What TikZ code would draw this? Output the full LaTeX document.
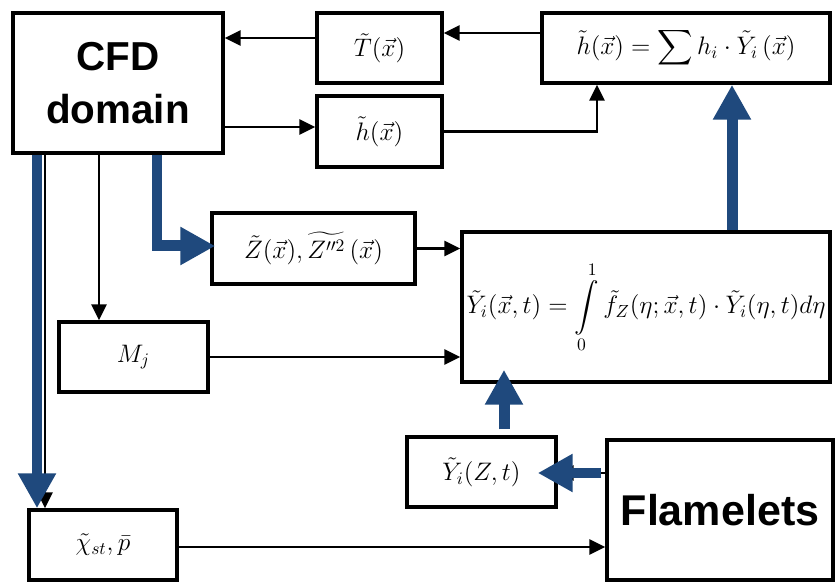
\documentclass[tikz,border=0pt]{standalone}
\usepackage{amsmath,amssymb}
\usepackage{fontspec}
\newfontfamily\headfont{Liberation Sans}
\usepackage{tikz}
\usetikzlibrary{positioning,arrows.meta}
\definecolor{flowblue}{RGB}{31,73,125}

\begin{document}
\begin{tikzpicture}[
  x=0.02cm, y=-0.02cm,
  font=\fontsize{14}{17}\selectfont,
  box/.style={draw, line width=2pt, inner sep=2pt, align=center},
  title/.style={font=\headfont\bfseries\fontsize{23}{30}\selectfont},
  ar/.style={-{Triangle[length=0.32cm, width=0.3cm]}, line width=1.7pt},
  bar/.style={-{Triangle[length=0.7cm, width=0.72cm]}, line width=0.22cm,
    draw=flowblue}
]
  \useasboundingbox (0,0) rectangle (836,584);
  % boxes
  \node[box, title, minimum width=4.2cm, minimum height=2.8cm] (cfd) at (118, 83)
    {CFD\\domain};
  \node[box, minimum width=2.5cm, minimum height=1.4cm] (temp) at (379.5, 48)
    {$\tilde{T}(\vec{x})$};
  \node[box, minimum width=2.5cm, minimum height=1.42cm] (enth) at (379.5, 131.5)
    {$\tilde{h}(\vec{x})$};
  \node[box, minimum width=5.76cm, minimum height=1.4cm] (hsum) at (686, 48)
    {$\tilde{h}(\vec{x})=\displaystyle\sum h_i\cdot\tilde{Y}_i\,(\vec{x})$};
  \node[box, minimum width=4.06cm, minimum height=1.42cm] (mix) at (313.5, 248.5)
    {$\tilde{Z}(\vec{x}),\widetilde{Z''^{2}}\,(\vec{x})$};
  \node[box, minimum width=7.36cm, minimum height=3cm] (integ) at (646, 307)
    {$\tilde{Y}_i(\vec{x},t)=\displaystyle\int\limits_0^1
      \tilde{f}_Z(\eta;\vec{x},t)\cdot\tilde{Y}_i(\eta,t)d\eta$};
  \node[box, minimum width=2.98cm, minimum height=1.4cm] (mj) at (133.5, 357)
    {$M_j$};
  \node[box, minimum width=2.98cm, minimum height=1.4cm] (yzt) at (481.5, 472)
    {$\tilde{Y}_i(Z,t)$};
  \node[box, title, font=\headfont\bfseries\fontsize{24.5}{30}\selectfont,
    minimum width=4.52cm, minimum height=2.8cm] (flam) at (720, 510) {Flamelets};
  \node[box, minimum width=2.96cm, minimum height=1.4cm] (chi) at (103, 545)
    {$\tilde{\chi}_{st},\bar{p}$};
  % thin connectors
  \draw[ar] (temp.west |- 0,38) -- (cfd.east |- 0,38);
  \draw[ar] (hsum.west |- 0,33) -- (temp.east |- 0,33);
  \draw[ar] (cfd.east |- 0,127) -- (enth.west |- 0,127);
  \draw[ar] (enth.east) -| (hsum.south -| 597,0);
  \draw[ar] (cfd.south -| 99,0) -- (mj.north -| 99,0);
  \draw[ar] (cfd.south -| 45,0) -- (chi.north -| 45,0);
  \draw[ar] (mix.east) -- (integ.west |- mix.east);
  \draw[ar] (mj.east) -- (integ.west |- mj.east);
  \draw[ar] (chi.east |- 0,547) -- (flam.west |- 0,547);
  \draw[ar] (flam.west |- 0,473) -- (yzt.east |- 0,473);
  % main flow
  \draw[bar] (cfd.south -| 37,0) -- (chi.north -| 37,0);
  \draw[bar, shorten >=-0.1cm] (cfd.south -| 157,0) |- (mix.west |- 0,246);
  \draw[bar] (integ.north -| 732,0) -- (hsum.south -| 732,0);
  \draw[bar, shorten <=0.12cm, shorten >=-0.28cm] (yzt.north -| 504,0)
    -- (integ.south -| 504,0);
  \draw[bar, shorten <=0.08cm, shorten >=-0.4cm] (flam.west |- 0,473)
    -- (yzt.east |- 0,473);
\end{tikzpicture}
\end{document}
